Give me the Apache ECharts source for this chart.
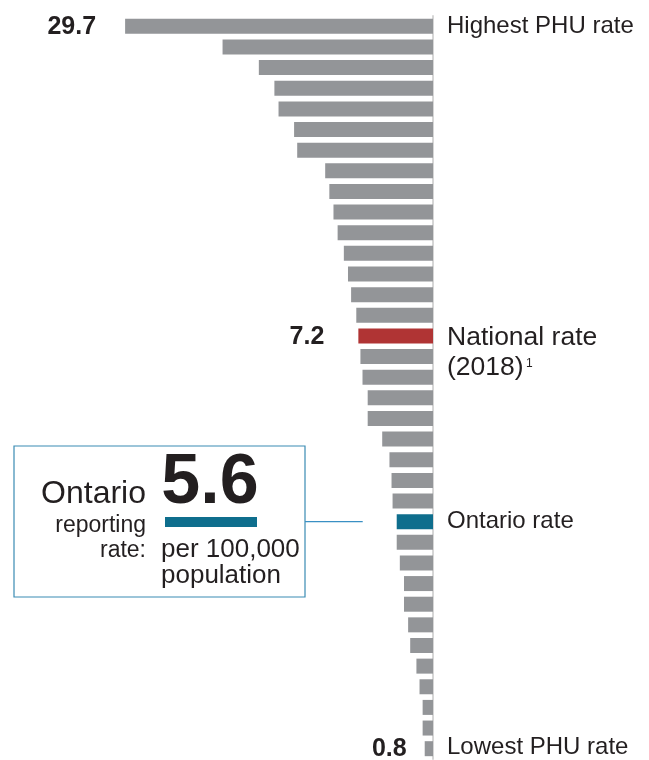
<!DOCTYPE html>
<html><head><meta charset="utf-8">
<script src="https://cdn.jsdelivr.net/npm/echarts@6/dist/echarts.min.js"></script>
<style>html,body{margin:0;padding:0;background:#fff}#c{width:649px;height:760px}</style>
</head><body><div id="c"></div>
<script>
// ---- data ----
const categories = ['PHU 1','PHU 2','PHU 3','PHU 4','PHU 5','PHU 6','PHU 7','PHU 8','PHU 9','PHU 10',
  'PHU 11','PHU 12','PHU 13','PHU 14','PHU 15','National','PHU 16','PHU 17','PHU 18','PHU 19',
  'PHU 20','PHU 21','PHU 22','PHU 23','Ontario','PHU 24','PHU 25','PHU 26','PHU 27','PHU 28',
  'PHU 29','PHU 30','PHU 31','PHU 32','PHU 33','PHU 34'];
const rates = [29.7, 20.3, 16.8, 15.3, 14.9, 13.4, 13.1, 10.4, 10.0, 9.6, 9.2, 8.6, 8.2, 7.9, 7.4,
  7.2, 7.0, 6.8, 6.3, 6.3, 4.9, 4.2, 4.0, 3.9, 3.5, 3.5, 3.2, 2.8, 2.8, 2.4, 2.2, 1.6, 1.3, 1.0, 1.0, 0.8];
const valueLabelCats = ['PHU 1', 'National', 'PHU 34'];
const valueLabelTexts = ['29.7', '7.2', '0.8'];
const sideLabelCats = ['PHU 1', 'National', 'Ontario', 'PHU 34'];
const sideLabelTexts = ['Highest PHU rate', 'National rate', 'Ontario rate', 'Lowest PHU rate'];
const nationalSecondLine = '(2018)';
const nationalFootnote = '1';
const ontarioRateText = '5.6';
const calloutTexts = ['Ontario', 'reporting', 'rate:', 'per 100,000', 'population'];

// ---- style ----
const GRAY = '#939598', RED = '#b03434', BLUE = '#0e6e8d', TEXT = '#231f20';
const FF = '"Liberation Sans", Arial, Helvetica, sans-serif';

const chart = echarts.init(document.getElementById('c'), null, {renderer: 'canvas'});
chart.setOption({
  animation: false,
  backgroundColor: '#fff',
  grid: {left: 122, right: 216, top: 16, height: 743, containLabel: false},
  xAxis: {type: 'value', min: 0, max: 30, inverse: true, show: false},
  yAxis: {
    type: 'category', data: categories, inverse: true, position: 'right', offset: 1,
    axisLine: {show: true, lineStyle: {color: '#d6d6d6', width: 2}},
    axisTick: {show: false}, axisLabel: {show: false}, splitLine: {show: false}
  },
  series: [{
    type: 'bar', barWidth: 15,
    data: rates.map((v, i) => ({
      value: v,
      itemStyle: {color: categories[i] === 'National' ? RED : categories[i] === 'Ontario' ? BLUE : GRAY}
    }))
  }]
});

const px = v => chart.convertToPixel({xAxisIndex: 0}, v);
const py = c => chart.convertToPixel({yAxisIndex: 0}, c);
const axisX = px(0);
const g = [];
function txt(x, y, text, font, align, fill) {
  g.push({type: 'text', x: x, y: y, silent: true,
    style: {text: text, font: font, fill: fill || TEXT, textAlign: align, textVerticalAlign: 'middle', align: align, verticalAlign: 'middle'}});
}
// bold value labels to the left of bars
const valueGaps = [29, 34, 18];
const valueDy = [1, 1, 0];
valueLabelCats.forEach((c, k) => {
  const i = categories.indexOf(c);
  txt(px(rates[i]) - valueGaps[k], py(c) + valueDy[k], valueLabelTexts[k], 'bold 25px ' + FF, 'right');
});
// side labels to the right of the axis
const sideSizes = [24, 26.5, 24, 24];
const sideDy = [0, 1.5, 0, -1];
sideLabelCats.forEach((c, k) => {
  txt(axisX + 14, py(c) + sideDy[k], sideLabelTexts[k], sideSizes[k] + 'px ' + FF, 'left');
});
const yNat = py('National');
txt(axisX + 14, yNat + 32, nationalSecondLine, '26.5px ' + FF, 'left');
txt(axisX + 93, yNat + 28, nationalFootnote, '12px ' + FF, 'left');

// callout box
const yOnt = py('Ontario');
const ontIdx = categories.indexOf('Ontario');
g.push({type: 'rect', shape: {x: 14, y: 446, width: 291, height: 151}, silent: true,
  style: {fill: 'rgba(0,0,0,0)', stroke: '#3a8bb3', lineWidth: 1.2}});
g.push({type: 'line', shape: {x1: 305, y1: yOnt, x2: px(rates[ontIdx]) - 34, y2: yOnt}, silent: true,
  style: {stroke: '#3a90c4', lineWidth: 1.2}});
g.push({type: 'rect', shape: {x: 165, y: 517, width: 92, height: 10}, silent: true, style: {fill: BLUE}});
txt(210, 484, ontarioRateText, 'bold 70px ' + FF, 'center');
txt(146, 494, calloutTexts[0], '32px ' + FF, 'right');
txt(146, 526, calloutTexts[1], '23px ' + FF, 'right');
txt(146, 551, calloutTexts[2], '23px ' + FF, 'right');
txt(161, 550, calloutTexts[3], '26px ' + FF, 'left');
txt(161, 576, calloutTexts[4], '26px ' + FF, 'left');

chart.setOption({graphic: g});
</script></body></html>
